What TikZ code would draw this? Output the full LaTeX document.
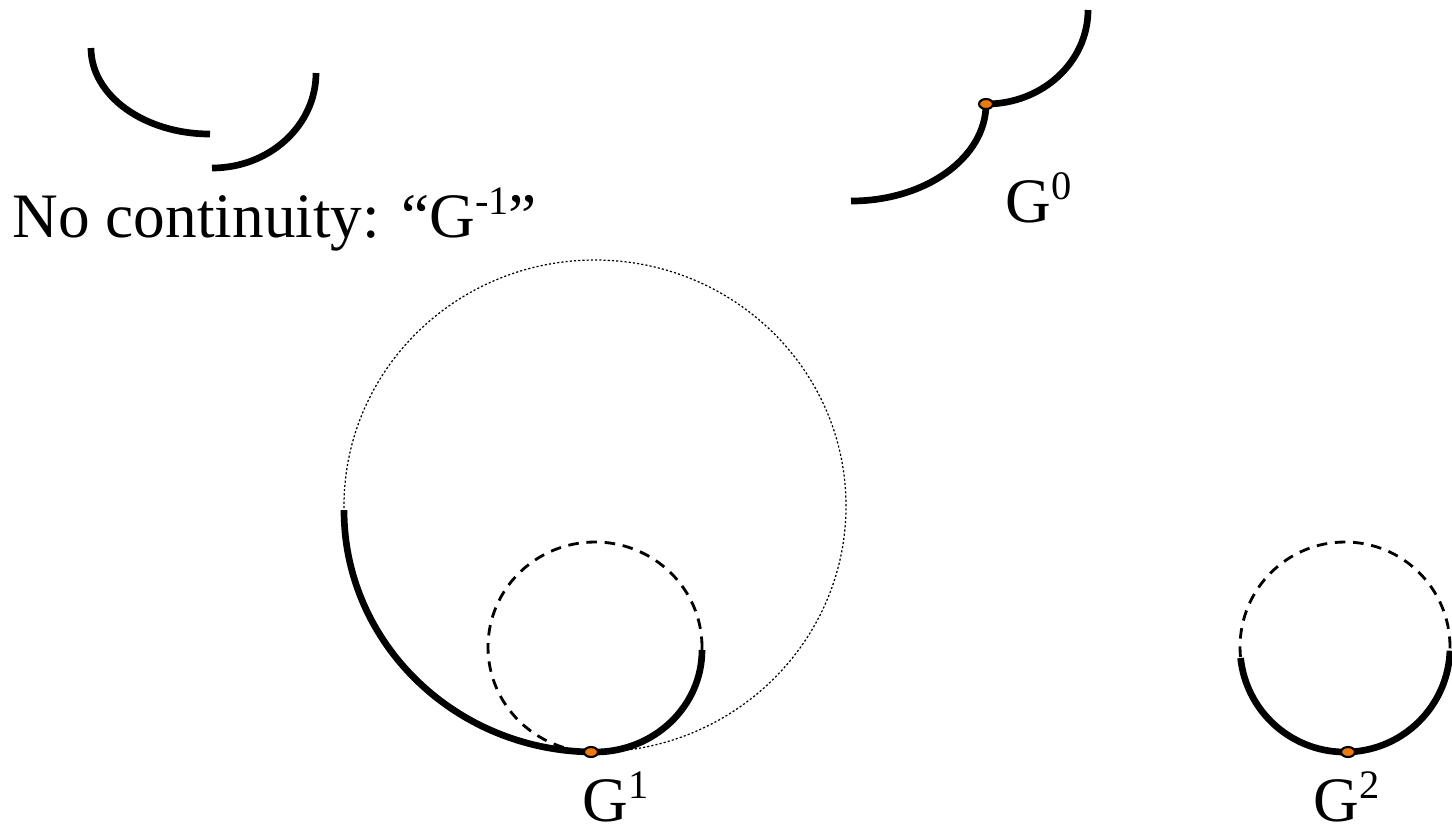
\documentclass[tikz,border=0pt]{standalone}
\usepackage{fontspec}
\setmainfont{Liberation Serif}
\usetikzlibrary{shapes.geometric}
\definecolor{dotorange}{RGB}{238,122,8}
\newcommand\supx[1]{\raisebox{6.5pt}{\fontsize{11.5}{11.5}\selectfont #1}}
\tikzset{
  curve/.style={line width=1.9pt},
  dashcircle/.style={line width=0.8pt, dash pattern=on 3pt off 2.2pt},
  dotcircle/.style={line width=0.35pt, dash pattern=on 0.6pt off 0.6pt},
  joint/.style={ellipse, draw=black, fill=dotorange, line width=0.6pt, minimum width=0.14cm, minimum height=0.1cm, inner sep=0pt},
  lbl/.style={font=\fontsize{18}{19}\selectfont, inner sep=0pt, anchor=base west}
}
\begin{document}
\begin{tikzpicture}[x=0.01cm,y=0.01cm]
\useasboundingbox (0,0) rectangle (1452,-832);
% No continuity
\draw[curve] (91,-48) arc[start angle=180,end angle=270,x radius=119,y radius=86];
\draw[curve] (212,-168) arc[start angle=270,end angle=360,x radius=104,y radius=95];
\node[lbl] (tneg) at (12,-237) {No continuity: “G\supx{-1}”};
% G0
\draw[curve] (851,-201) arc[start angle=270,end angle=360,x radius=135,y radius=97];
\draw[curve] (986,-104) arc[start angle=270,end angle=360,x radius=102,y radius=94];
\node[joint] (j0) at (986,-104) {};
\node[lbl] (t0) at (1005,-222) {G\supx{0}};
% G1
\draw[dotcircle] (595,-506) ellipse[x radius=251,y radius=246];
\draw[dashcircle] (595,-647) ellipse[x radius=107,y radius=105];
\draw[curve] (344,-510) arc[start angle=180,end angle=270,x radius=251,y radius=242];
\draw[curve] (595,-752) arc[start angle=270,end angle=360,x radius=107,y radius=102];
\node[joint] (j1) at (591,-752) {};
\node[lbl] (t1) at (582,-821) {G\supx{1}};
% G2
\draw[dashcircle] (1345,-647) ellipse[x radius=105,y radius=105];
\draw[curve] (1345,-647) ++(186:105) arc[start angle=186,end angle=358,radius=105];
\node[joint] (j2) at (1348,-752) {};
\node[lbl] (t2) at (1313,-821) {G\supx{2}};
\end{tikzpicture}
\end{document}
